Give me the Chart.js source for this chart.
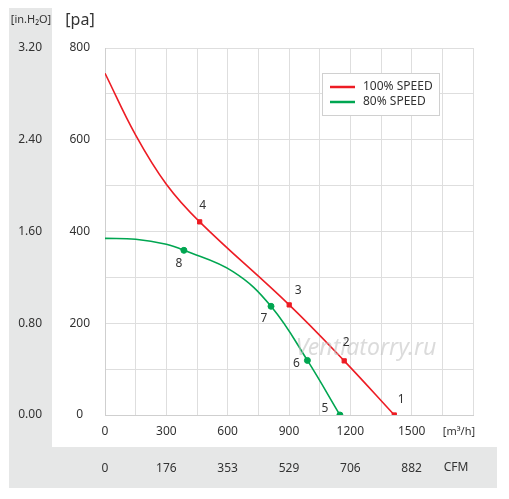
<!DOCTYPE html>
<html>
<head>
<meta charset="utf-8">
<script src="https://cdn.jsdelivr.net/npm/chart.js@4"></script>
<style>
html,body{margin:0;padding:0;background:#fff;}
#wrap{width:509px;height:499px;position:relative;}
</style>
</head>
<body>
<div id="wrap"><canvas id="c" width="509" height="499"></canvas></div>
<script>
// ---- data ----
const seriesNames = ['100% SPEED', '80% SPEED'];
// 100% speed curve (m3/h, Pa)
const redFlow     = [0, 150, 300, 463, 901, 1170, 1415];
const redPressure = [745, 610, 503, 421, 240, 118, 0];
// 80% speed curve
const greenFlow     = [0, 150, 300, 386, 628, 812, 990, 1149];
const greenPressure = [385, 383, 372, 359, 312, 237, 119, 0];
// numbered operating points
const redPointIds   = ['1', '2', '3', '4'];
const redPointFlow  = [1415, 1170, 901, 463];
const redPointPres  = [0, 118, 240, 421];
const greenPointIds  = ['5', '6', '7', '8'];
const greenPointFlow = [1149, 990, 812, 386];
const greenPointPres = [0, 119, 237, 359];
// tick labels
const flowTicks = [0, 300, 600, 900, 1200, 1500];
const cfmLabels = ['0', '176', '353', '529', '706', '882'];
const paTicks = [0, 200, 400, 600, 800];
const inH2OLabels = ['0.00', '0.80', '1.60', '2.40', '3.20'];

const RED = '#ed1c24';
const GREEN = '#00a651';
const TXT = '#333333';
const FONT = '"Noto Sans", sans-serif';

function xy(xs, ys) { return xs.map((x, i) => ({x: x, y: ys[i]})); }

const labelOffsets = {
  '1': [7, -15], '2': [2, -18], '3': [9, -14], '4': [3, -16],
  '5': [-15, -6], '6': [-11, 3], '7': [-7, 12], '8': [-5, 13]
};

const decor = {
  id: 'decor',
  beforeDraw(chart) {
    const ctx = chart.ctx;
    ctx.save();
    ctx.fillStyle = '#e6e7e7';
    ctx.fillRect(9, 8, 43, 439);
    ctx.fillRect(9, 447, 488, 41);
    ctx.restore();
  },
  afterDatasetsDraw(chart) {
    const ctx = chart.ctx;
    ctx.save();
    // watermark
    ctx.font = 'italic 23px ' + FONT;
    ctx.fillStyle = 'rgba(190,190,190,0.55)';
    ctx.textAlign = 'center';
    ctx.textBaseline = 'middle';
    ctx.fillText('Ventiatorry.ru', 366, 348);
    // point labels
    ctx.font = '12px ' + FONT;
    ctx.fillStyle = TXT;
    [[2, redPointIds], [3, greenPointIds]].forEach(([di, ids]) => {
      const meta = chart.getDatasetMeta(di);
      meta.data.forEach((el, i) => {
        const off = labelOffsets[ids[i]];
        ctx.fillText(ids[i], el.x + off[0], el.y + off[1]);
      });
    });
    // headers
    ctx.font = '11px ' + FONT;
    ctx.fillText('[in.H\u2082O]', 31, 20);
    ctx.font = '16px ' + FONT;
    ctx.fillText('[pa]', 80, 20);
    // unit labels
    ctx.font = '11px ' + FONT;
    ctx.fillText('[m\u00b3/h]', 459, 432);
    ctx.font = '12px ' + FONT;
    ctx.fillText('CFM', 456, 468);
    // legend
    const lx = 322, ly = 73, lw = 117, lh = 42;
    ctx.fillStyle = '#ffffff';
    ctx.fillRect(lx, ly, lw, lh);
    ctx.strokeStyle = '#d0d0d0';
    ctx.lineWidth = 1;
    ctx.strokeRect(lx + 0.5, ly + 0.5, lw, lh);
    const cols = [RED, GREEN];
    ctx.textAlign = 'left';
    ctx.font = '12px ' + FONT;
    for (let i = 0; i < 2; i++) {
      const yy = 87 + i * 15;
      ctx.strokeStyle = cols[i];
      ctx.lineWidth = 2.5;
      ctx.beginPath();
      ctx.moveTo(330, yy);
      ctx.lineTo(355, yy);
      ctx.stroke();
      ctx.fillStyle = TXT;
      ctx.fillText(chart.data.datasets[i].label, 363, yy);
    }
    ctx.restore();
  }
};

new Chart(document.getElementById('c'), {
  type: 'scatter',
  data: {
    datasets: [
      {label: seriesNames[0], data: xy(redFlow, redPressure), showLine: true,
       borderColor: RED, backgroundColor: RED, borderWidth: 1.6, pointRadius: 0,
       tension: 0.4},
      {label: seriesNames[1], data: xy(greenFlow, greenPressure), showLine: true,
       borderColor: GREEN, backgroundColor: GREEN, borderWidth: 1.6, pointRadius: 0,
       tension: 0.4},
      {label: 'p100', data: xy(redPointFlow, redPointPres), showLine: false,
       borderColor: RED, backgroundColor: RED, pointRadius: 3, pointStyle: 'rect'},
      {label: 'p80', data: xy(greenPointFlow, greenPointPres), showLine: false,
       borderColor: GREEN, backgroundColor: GREEN, pointRadius: 3}
    ]
  },
  options: {
    responsive: false,
    animation: false,
    events: [],
    layout: {padding: {left: 0, right: 36, top: 48, bottom: 0}},
    plugins: {legend: {display: false}, tooltip: {enabled: false}},
    scales: {
      x: {
        type: 'linear', position: 'bottom', min: 0, max: 1800, weight: 0,
        grid: {color: '#dedede', drawTicks: false},
        border: {color: '#cfcfcf'},
        ticks: {stepSize: 150, padding: 9, color: TXT, font: {family: FONT, size: 12},
          maxRotation: 0, autoSkip: false,
          callback: (v) => { const i = flowTicks.indexOf(v); return i >= 0 ? String(flowTicks[i]) : ''; }},
        afterFit: (s) => { s.height = 32; }
      },
      x2: {
        type: 'linear', position: 'bottom', min: 0, max: 1800, weight: 1,
        grid: {display: false, drawTicks: false},
        border: {display: false},
        ticks: {stepSize: 300, padding: 14, color: TXT, font: {family: FONT, size: 12},
          maxRotation: 0, autoSkip: false,
          callback: (v) => { const i = flowTicks.indexOf(v); return i >= 0 ? cfmLabels[i] : ''; }},
        afterFit: (s) => { s.height = 52; }
      },
      y: {
        type: 'linear', position: 'left', min: 0, max: 800, weight: 0,
        grid: {color: '#dedede', drawTicks: false},
        border: {color: '#cfcfcf'},
        ticks: {stepSize: 100, padding: 15, crossAlign: 'center', color: TXT,
          font: {family: FONT, size: 12}, autoSkip: false,
          callback: (v) => { const i = paTicks.indexOf(v); return i >= 0 ? String(paTicks[i]) : ''; }},
        afterFit: (s) => { s.width = 53; }
      },
      y2: {
        type: 'linear', position: 'left', min: 0, max: 800, weight: 1,
        grid: {display: false, drawTicks: false},
        border: {display: false},
        ticks: {stepSize: 200, padding: 10, crossAlign: 'center', color: TXT,
          font: {family: FONT, size: 12}, autoSkip: false,
          callback: (v) => { const i = paTicks.indexOf(v); return i >= 0 ? inH2OLabels[i] : ''; }},
        afterFit: (s) => { s.width = 52; }
      }
    }
  },
  plugins: [decor]
});
</script>
</body>
</html>
